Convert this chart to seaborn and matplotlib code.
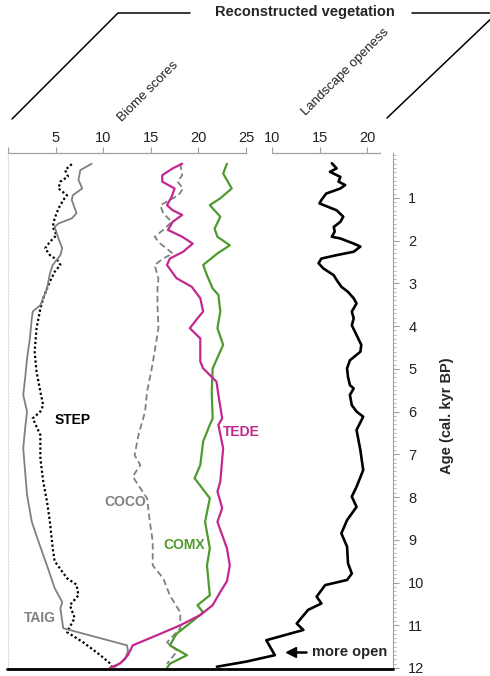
import numpy as np
import pandas as pd
import seaborn as sns
import matplotlib.pyplot as plt
from matplotlib.lines import Line2D
from matplotlib.ticker import MultipleLocator

# biome scores (left panel): age in cal. kyr BP
step_age = [0.21, 0.35, 0.50, 0.62, 0.78, 0.94, 1.05, 1.25, 1.48, 1.68, 1.87, 2.03, 2.18, 2.34, 2.46,
            2.57, 2.73, 2.96, 3.12, 3.35, 3.59, 4.05, 4.60, 5.07, 5.54, 5.85, 6.00, 6.16, 6.55, 7.09,
            7.64, 8.11, 8.58, 9.20, 9.50, 9.90, 10.05, 10.30, 10.53, 10.83, 11.16, 11.40, 11.70, 11.89, 12.00]
step = [6.7, 6.0, 6.3, 5.5, 5.3, 6.2, 5.8, 5.3, 4.9, 4.7, 5.1, 4.4, 3.9, 4.4, 5.2,
        5.5, 4.9, 4.4, 4.1, 3.7, 3.4, 3.0, 2.8, 3.0, 3.4, 3.7, 3.4, 2.6, 3.4, 3.4,
        3.7, 4.1, 4.4, 4.7, 4.9, 6.2, 7.2, 7.4, 6.5, 7.0, 6.2, 7.9, 9.7, 10.7, 11.0]

taig_age = [0.20, 0.35, 0.58, 0.78, 0.94, 1.05, 1.36, 1.48, 1.60, 1.68, 1.95, 2.18, 2.34, 2.57, 2.77,
            3.12, 3.51, 3.66, 3.82, 4.29, 4.76, 5.22, 5.61, 6.00, 6.39, 6.86, 7.41, 7.95, 8.58, 9.04,
            9.67, 10.13, 10.46, 10.60, 11.07, 11.47, 11.60, 11.80, 11.98]
taig = [8.8, 7.6, 7.4, 7.8, 6.8, 6.7, 7.2, 6.7, 5.3, 4.9, 5.3, 5.7, 5.5, 4.7, 4.4,
        4.1, 3.4, 2.6, 2.5, 2.3, 2.0, 1.8, 1.6, 2.0, 1.8, 1.6, 1.8, 2.0, 2.5, 3.2,
        4.2, 4.9, 5.7, 5.5, 5.8, 12.5, 12.6, 12.3, 11.2]

coco_age = [0.20, 0.47, 0.62, 0.78, 0.94, 1.17, 1.36, 1.56, 1.75, 1.91, 2.07, 2.30, 2.42, 2.57, 2.88,
            3.12, 3.51, 4.05, 4.60, 4.99, 5.54, 6.00, 6.16, 6.55, 7.02, 7.25, 7.52, 8.03, 8.58, 9.04,
            9.60, 9.90, 10.30, 10.70, 11.07, 11.40, 11.60, 11.90]
coco = [18.1, 18.3, 17.8, 18.4, 17.9, 16.0, 16.3, 17.2, 16.3, 15.4, 16.0, 17.3, 16.3, 15.4, 15.8,
        15.7, 15.7, 15.8, 15.4, 15.1, 14.6, 14.4, 14.2, 13.7, 13.3, 13.9, 13.1, 14.6, 14.9, 15.2,
        15.2, 16.3, 17.0, 18.1, 18.1, 16.7, 17.8, 16.7]

tede_age = [0.20, 0.31, 0.47, 0.62, 0.78, 0.97, 1.17, 1.29, 1.40, 1.56, 1.75, 1.91, 2.07, 2.26, 2.42,
            2.57, 2.88, 3.08, 3.35, 3.66, 3.82, 4.05, 4.29, 4.83, 4.99, 5.30, 5.61, 6.16, 6.31, 6.86,
            7.64, 7.87, 8.26, 8.58, 8.89, 9.20, 9.60, 9.97, 10.22, 10.53, 10.76, 11.00, 11.20, 11.47,
            11.70, 11.89, 12.00]
tede = [18.3, 17.3, 16.2, 16.2, 17.5, 17.2, 16.7, 17.3, 18.3, 17.3, 16.8, 18.3, 19.4, 18.4, 17.0,
        16.7, 17.7, 19.3, 20.2, 20.5, 19.9, 19.1, 20.2, 20.2, 20.5, 21.9, 22.1, 22.5, 22.1, 22.6,
        22.3, 22.0, 22.5, 22.0, 22.5, 23.0, 23.3, 23.0, 22.3, 21.5, 20.2, 18.1, 16.0, 13.1,
        12.6, 11.8, 10.7]

comx_age = [0.20, 0.43, 0.78, 1.01, 1.17, 1.44, 1.72, 1.91, 2.11, 2.30, 2.57, 2.81, 3.12, 3.27, 3.66,
            4.05, 4.44, 4.99, 5.54, 6.16, 6.31, 6.70, 7.25, 7.56, 8.03, 8.58, 9.20, 9.60, 10.30, 10.53,
            10.70, 10.90, 11.20, 11.47, 11.70, 11.90, 12.00]
comx = [23.0, 22.6, 23.5, 22.3, 21.2, 22.3, 21.7, 22.0, 23.3, 22.0, 20.5, 20.9, 21.5, 22.1, 22.3,
        22.0, 22.6, 21.5, 21.4, 21.5, 21.2, 20.5, 20.2, 19.6, 21.2, 20.7, 21.2, 20.9, 21.2, 19.9,
        20.5, 19.4, 17.7, 17.0, 18.8, 17.0, 16.7]

# landscape openness (right panel)
open_age = [0.19, 0.31, 0.39, 0.51, 0.62, 0.70, 0.78, 0.90, 1.05, 1.13, 1.21, 1.29, 1.44, 1.56, 1.68,
            1.79, 1.91, 1.95, 2.07, 2.14, 2.26, 2.34, 2.42, 2.53, 2.65, 2.81, 2.92, 3.08, 3.20, 3.35,
            3.47, 3.66, 3.82, 3.98, 4.21, 4.44, 4.60, 4.80, 4.99, 5.19, 5.38, 5.46, 5.61, 5.85, 6.00,
            6.12, 6.43, 6.90, 7.37, 7.76, 7.99, 8.23, 8.54, 8.85, 9.16, 9.55, 9.79, 9.94, 10.06, 10.33,
            10.49, 10.64, 10.96, 11.11, 11.35, 11.70, 11.85, 11.97]
openness = [16.3, 16.8, 16.1, 17.2, 17.0, 17.7, 17.2, 15.7, 15.2, 15.0, 15.9, 16.8, 17.5, 17.2, 16.5,
            16.6, 16.3, 17.2, 18.6, 19.3, 18.6, 16.8, 15.2, 14.9, 15.4, 16.5, 16.8, 17.3, 18.0, 18.6,
            18.9, 18.4, 18.6, 18.4, 18.9, 19.4, 19.3, 18.2, 17.9, 18.0, 18.2, 18.6, 18.2, 18.4, 18.9,
            19.6, 18.9, 19.3, 19.6, 18.9, 18.4, 18.9, 17.9, 17.3, 17.9, 18.0, 18.4, 17.9, 15.6, 14.7,
            15.2, 13.8, 12.6, 13.3, 9.4, 10.3, 7.3, 4.2]

biome_ticks = [0, 5, 10, 15, 20, 25]
biome_ticklabels = ['', '5', '10', '15', '20', '25']
open_ticks = [10, 15, 20]
age_ticks = list(range(1, 13))

sns.set_style("white")
plt.rcParams['font.family'] = ['Liberation Sans', 'DejaVu Sans']

W, H = 490, 676
fig = plt.figure(figsize=(W / 100, H / 100), dpi=100)

def fx(px):
    return px / W

def fy(py):
    return 1 - py / H

axL = fig.add_axes([fx(8), fy(668), 238 / W, 515 / H])
axR = fig.add_axes([fx(272), fy(668), 108 / W, 515 / H])

series = [
    (step, step_age, 'black', (0, (1, 1.1)), 1.6),
    (taig, taig_age, '#808080', '-', 1.3),
    (coco, coco_age, '#808080', (0, (3.5, 2)), 1.3),
    (comx, comx_age, '#4e9a2e', '-', 1.6),
    (tede, tede_age, '#c2288e', '-', 1.6),
]
for vals, ages, col, ls, lw in series:
    df = pd.DataFrame({'score': vals, 'age': ages})
    sns.lineplot(data=df, x='score', y='age', ax=axL, color=col, linestyle=ls,
                 linewidth=lw, estimator=None, sort=False)

dfo = pd.DataFrame({'open': openness, 'age': open_age})
sns.lineplot(data=dfo, x='open', y='age', ax=axR, color='black', linewidth=1.9,
             estimator=None, sort=False)
axR.lines[-1].set_clip_on(False)

for ax in (axL, axR):
    ax.set_ylim(12, -0.05)
    ax.set_xlabel('')
    ax.set_ylabel('')
    ax.xaxis.tick_top()
    ax.tick_params(axis='x', which='both', direction='out', length=4, width=0.8,
                   color='#a0a0a0', labelsize=10.5, pad=2, labelcolor='#222222')
    ax.spines['top'].set_color('#a0a0a0')
    ax.spines['top'].set_linewidth(0.9)
    ax.spines['bottom'].set_visible(False)
    ax.spines['right'].set_visible(False)
    ax.set_facecolor('none')

axL.set_xlim(0, 25)
axL.set_xticks(biome_ticks)
axL.set_xticklabels(biome_ticklabels)
axL.set_yticks([])
axL.spines['left'].set_color('#d8d8d8')
axL.spines['left'].set_linestyle(':')

axR.set_xlim(10, 10 + 108 / 9.5)
axR.set_xticks(open_ticks)
axR.spines['left'].set_visible(False)
axR.spines['right'].set_visible(True)
axR.spines['right'].set_position(('outward', 9.4))
axR.spines['right'].set_color('#a0a0a0')
axR.yaxis.tick_right()
axR.set_yticks(age_ticks)
axR.yaxis.set_minor_locator(MultipleLocator(0.1))
axR.tick_params(axis='y', which='major', direction='out', length=4, width=0.8,
                color='#a0a0a0', labelsize=10.5, pad=7, labelcolor='#222222')
axR.tick_params(axis='y', which='minor', direction='out', length=2, width=0.6, color='#b0b0b0')

# curve labels
lab = dict(fontsize=10, fontweight='bold', ha='center', va='center')
axL.text(6.8, 6.2, 'STEP', color='black', **lab)
axL.text(24.5, 6.48, 'TEDE', color='#c2288e', clip_on=False, **lab)
axL.text(12.3, 8.12, 'COCO', color='#808080', **lab)
axL.text(18.5, 9.12, 'COMX', color='#4e9a2e', **lab)
axL.text(3.3, 10.83, 'TAIG', color='#808080', **lab)

# bottom base line across both panels
fig.add_artist(Line2D([fx(7), fx(393)], [fy(669), fy(669)], color='black', lw=2))

# header brackets
fig.add_artist(Line2D([fx(12), fx(118), fx(190)], [fy(119), fy(13), fy(13)], color='black', lw=1.1))
fig.add_artist(Line2D([fx(412), fx(497), fx(387)], [fy(13), fy(13), fy(118)], color='black', lw=1.1))
fig.text(fx(305), fy(12), 'Reconstructed vegetation', fontsize=10.5, fontweight='bold',
         ha='center', va='center')
fig.text(fx(148), fy(92), 'Biome scores', fontsize=9.5, rotation=45, ha='center', va='center',
         color='#222222')
fig.text(fx(345), fy(72), 'Landscape openess', fontsize=9.5, rotation=45, ha='center', va='center',
         color='#222222')

fig.text(fx(447), fy(416), 'Age (cal. kyr BP)', fontsize=10.5, fontweight='bold', rotation=90,
         ha='center', va='center')

fig.text(fx(312), fy(652), 'more open', fontsize=10.5, fontweight='bold', ha='left', va='center')
fig.add_artist(Line2D([fx(293), fx(306)], [fy(652), fy(652)], color='black', lw=1.8))
fig.add_artist(Line2D([fx(291)], [fy(652)], marker='<', markersize=7, color='black'))

fig.savefig('out.png', dpi=100)
